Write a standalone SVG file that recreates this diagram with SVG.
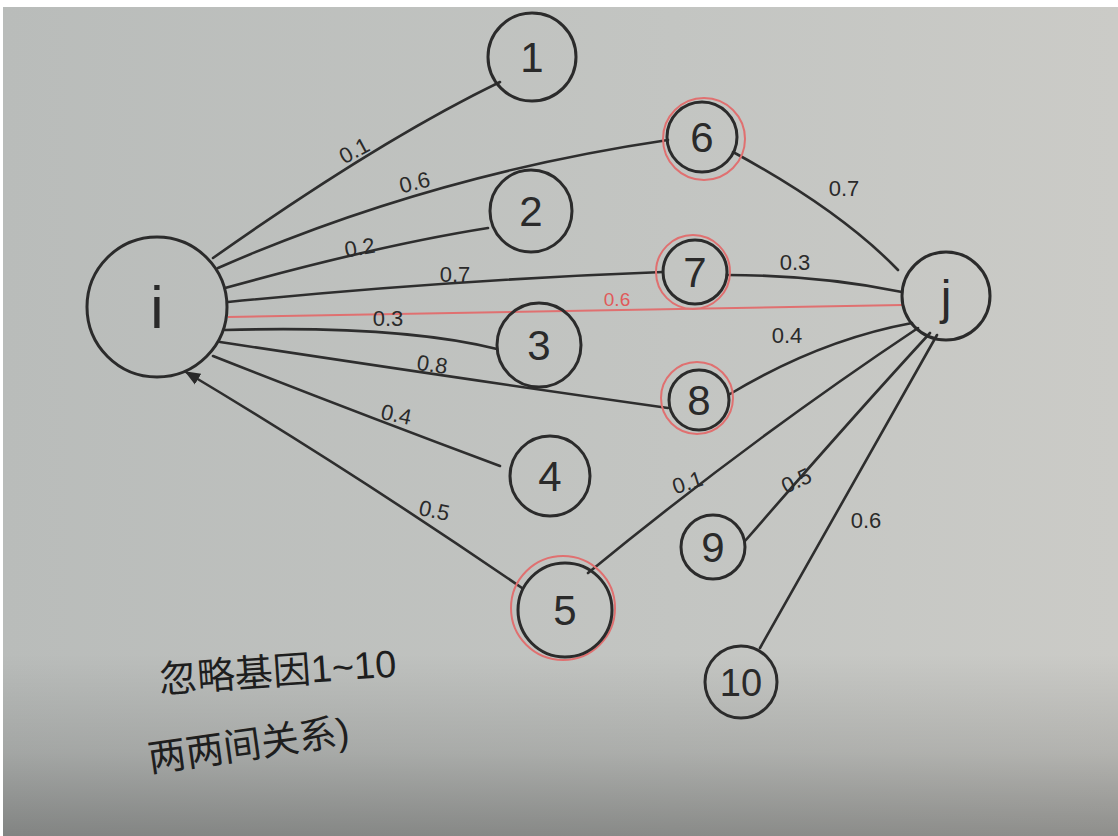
<svg xmlns="http://www.w3.org/2000/svg" width="1118" height="836" viewBox="0 0 1118 836">
<defs>
<linearGradient id="paperH" x1="0" y1="0" x2="1" y2="0">
<stop offset="0" stop-color="#b9bcba"/>
<stop offset="0.6" stop-color="#c3c5c2"/>
<stop offset="1" stop-color="#cbcbc7"/>
</linearGradient>
<linearGradient id="shade" x1="0" y1="0" x2="0" y2="1">
<stop offset="0" stop-color="#000" stop-opacity="0"/>
<stop offset="0.78" stop-color="#000" stop-opacity="0"/>
<stop offset="0.9" stop-color="#000" stop-opacity="0.12"/>
<stop offset="1" stop-color="#000" stop-opacity="0.3"/>
</linearGradient>
<marker id="arr" viewBox="0 0 10 10" refX="9" refY="5" markerWidth="6" markerHeight="6" orient="auto" markerUnits="strokeWidth">
<path d="M0,1 L10,5 L0,9 z" fill="#2a2a2a"/>
</marker>
<style>
.n{fill:none;stroke:#2b2b2b;stroke-width:3}
.r{fill:none;stroke:#e07070;stroke-width:2}
.e{fill:none;stroke:#2e2e2e;stroke-width:2.6;stroke-linecap:round}
.t{font-family:"Liberation Sans","DejaVu Sans",sans-serif;fill:#2a2a2a;text-anchor:middle}
.num{font-size:42px}
.lb{font-size:22px;font-family:"Liberation Sans","DejaVu Sans",sans-serif;fill:#2a2a2a;text-anchor:middle}
.cn{font-family:"Liberation Sans","Noto Sans CJK SC",sans-serif;font-size:38px;fill:#1e1e1e}
</style>
</defs>
<rect x="0" y="0" width="1118" height="836" fill="#ffffff"/>
<rect x="3" y="7" width="1115" height="829" fill="url(#paperH)"/>
<rect x="3" y="7" width="1115" height="829" fill="url(#shade)"/>

<g id="connectors">
<path class="e" d="M213,258 Q380,140 500,82"/>
<path class="e" d="M218,268 Q430,175 668,140"/>
<path class="e" d="M225,288 Q380,245 488,228"/>
<path class="e" d="M228,302 Q450,280 663,272"/>
<path d="M228,317 L902,305" fill="none" stroke="#e07070" stroke-width="2"/>
<path class="e" d="M225,330 Q400,325 497,349"/>
<path class="e" d="M220,342 Q470,380 668,408"/>
<path class="e" d="M213,356 Q350,410 500,466"/>
<path class="e" d="M522,588 Q350,470 186,372" marker-end="url(#arr)"/>
<path class="e" d="M733,152 Q840,210 898,270"/>
<path class="e" d="M727,275 Q820,275 902,292"/>
<path class="e" d="M730,394 Q820,340 912,323"/>
<path class="e" d="M588,573 Q750,440 918,328"/>
<path class="e" d="M745,541 Q850,420 930,333"/>
<path class="e" d="M760,648 Q860,470 937,335"/>
<text class="lb" x="355" y="158" transform="rotate(-28 355 152)">0.1</text>
<text class="lb" x="415" y="190" transform="rotate(-14 415 184)">0.6</text>
<text class="lb" x="360" y="255" transform="rotate(-10 360 249)">0.2</text>
<text class="lb" x="455" y="282">0.7</text>
<text x="617" y="306" font-family="Liberation Sans,sans-serif" font-size="19" fill="#e05a5a" text-anchor="middle">0.6</text>
<text class="lb" x="388" y="326">0.3</text>
<text class="lb" x="432" y="372" transform="rotate(8 432 366)">0.8</text>
<text class="lb" x="396" y="422" transform="rotate(12 396 416)">0.4</text>
<text class="lb" x="434" y="518" transform="rotate(12 434 512)">0.5</text>
<text class="lb" x="844" y="196">0.7</text>
<text class="lb" x="795" y="270">0.3</text>
<text class="lb" x="787" y="343">0.4</text>
<text class="lb" x="688" y="490" transform="rotate(-18 688 484)">0.1</text>
<text class="lb" x="797" y="488" transform="rotate(-25 797 482)">0.5</text>
<text class="lb" x="866" y="528">0.6</text>
</g>

<g id="node-i"><circle class="n" cx="157" cy="307" r="70"/><text class="t" x="157" y="328" font-size="60">i</text></g>
<g id="node-1"><circle class="n" cx="532" cy="57" r="44"/><text class="t num" x="532" y="72">1</text></g>
<g id="node-6"><circle class="r" cx="704" cy="139" r="41"/><circle class="n" cx="702" cy="137" r="35"/><text class="t num" x="702" y="152">6</text></g>
<g id="node-2"><circle class="n" cx="531" cy="211" r="41"/><text class="t num" x="531" y="226">2</text></g>
<g id="node-7"><circle class="r" cx="693" cy="272" r="37"/><circle class="n" cx="695" cy="272" r="32"/><text class="t num" x="695" y="287">7</text></g>
<g id="node-j"><circle class="n" cx="946" cy="296" r="44"/><text class="t" x="946" y="314" font-size="48">j</text></g>
<g id="node-3"><circle class="n" cx="539" cy="345" r="42"/><text class="t num" x="539" y="360">3</text></g>
<g id="node-8"><circle class="r" cx="697" cy="398" r="36"/><circle class="n" cx="699" cy="400" r="30"/><text class="t num" x="699" y="415">8</text></g>
<g id="node-4"><circle class="n" cx="550" cy="476" r="40"/><text class="t num" x="550" y="491">4</text></g>
<g id="node-5"><circle class="r" cx="563" cy="608" r="52"/><circle class="n" cx="565" cy="610" r="47"/><text class="t num" x="565" y="625">5</text></g>
<g id="node-9"><circle class="n" cx="713" cy="547" r="32"/><text class="t num" x="713" y="562">9</text></g>
<g id="node-10"><circle class="n" cx="741" cy="682" r="36"/><text class="t" x="741" y="696" font-size="38">10</text></g>

<g id="note">
<text class="cn" x="160" y="693" transform="rotate(-4 160 693)">忽略基因1~10</text>
<text class="cn" x="150" y="772" transform="rotate(-8 150 772)">两两间关系)</text>
</g>
</svg>
